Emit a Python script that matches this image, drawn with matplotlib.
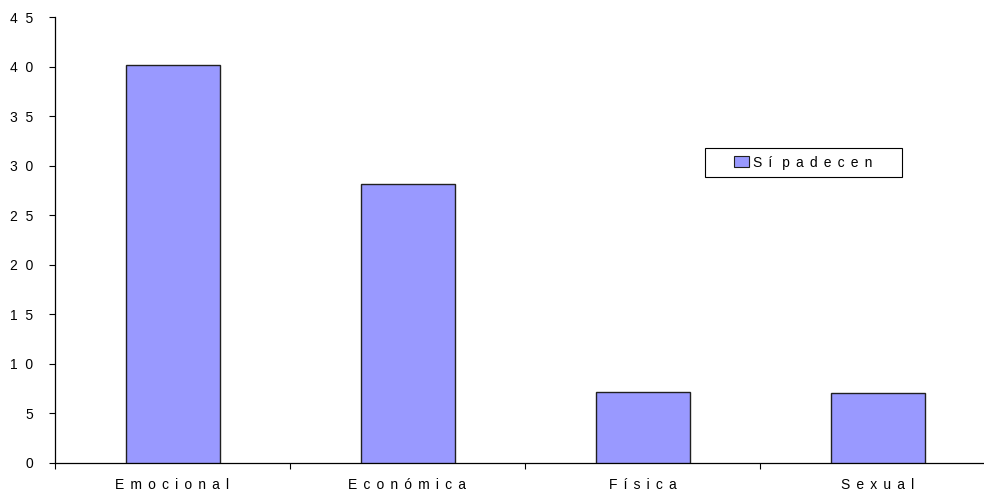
import matplotlib.pyplot as plt
from matplotlib.patches import Rectangle
from matplotlib.ticker import FixedLocator, NullFormatter

plt.rcParams['font.family'] = ['Liberation Sans', 'DejaVu Sans']

# ── Datos ────────────────────────────────────────────────
categorias = ['Emocional', 'Económica', 'Física', 'Sexual']
si_padecen = [40.2, 28.1, 7.2, 7.1]
serie = 'Sí padecen'
y_ticks = list(range(0, 46, 5))

BAR = '#9999FF'
EDGE = '#202020'
SEP = ' \u2006'   # espacio + espacio fino entre letras


def espaciado(txt, sep=SEP):
    """Texto con letras separadas, al estilo del gráfico de Excel."""
    palabras = txt.split(' ')
    return (sep + ' ').join(sep.join(p) for p in palabras)


fig = plt.figure(figsize=(9.84, 4.93), dpi=100, facecolor='white')
ax = fig.add_axes([55 / 984, 30 / 493, 940 / 984, 446 / 493])

x = range(len(categorias))
ax.bar(x, si_padecen, width=0.4, color=BAR, edgecolor=EDGE, linewidth=1.0,
       label=espaciado(serie), zorder=3)

ax.set_xlim(-0.5, len(categorias) - 0.5)
ax.set_ylim(0, 45)

# eje Y
ax.set_yticks(y_ticks)
ax.set_yticklabels([espaciado(str(v), '  ') for v in y_ticks])
ax.tick_params(axis='y', direction='out', length=4.5, width=0.8, pad=11,
               labelsize=10, colors='black')

# eje X: marcas entre categorías, etiquetas centradas
ax.xaxis.set_major_locator(FixedLocator([i - 0.5 for i in range(len(categorias) + 1)]))
ax.xaxis.set_major_formatter(NullFormatter())
ax.set_xticks(list(x), [espaciado(c) for c in categorias], minor=True)
ax.tick_params(axis='x', which='major', direction='out', length=4, width=0.8)
ax.tick_params(axis='x', which='minor', length=0, pad=10.5, labelsize=10)

for s in ['top', 'right']:
    ax.spines[s].set_visible(False)
for s in ['left', 'bottom']:
    ax.spines[s].set_linewidth(0.9)
    ax.spines[s].set_color('black')

# leyenda con marco propio, más ancho que el contenido
ax.add_patch(Rectangle((705 / 984, 1 - 177 / 493), 197 / 984, 29 / 493,
                       transform=fig.transFigure, facecolor='white',
                       edgecolor='black', linewidth=0.8, zorder=4, clip_on=False))
leg = ax.legend(loc='center left', bbox_to_anchor=(734 / 984, 1 - 162.5 / 493),
                bbox_transform=fig.transFigure, fontsize=10, frameon=False,
                borderpad=0, handlelength=1.1, handleheight=0.8,
                handletextpad=0.25, borderaxespad=0)
leg.legend_handles[0].set_linewidth(0.8)
leg.set_zorder(5)

fig.savefig('out.png', dpi=100, facecolor='white')
